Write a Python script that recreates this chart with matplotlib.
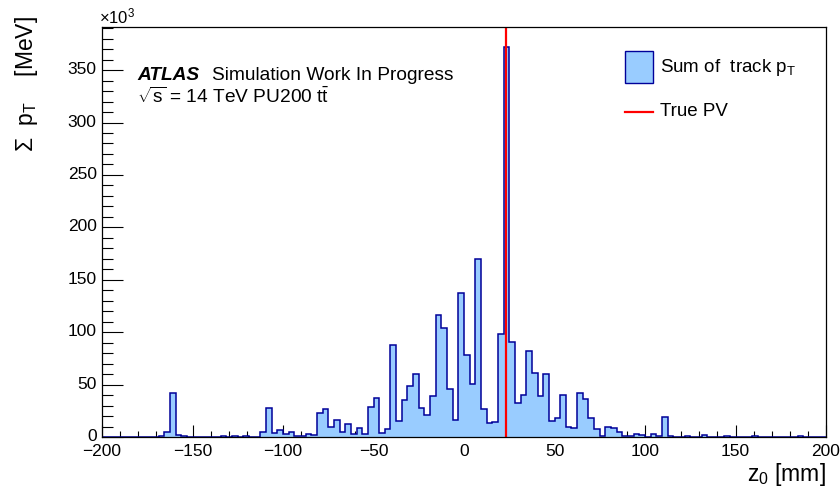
import numpy as np
import matplotlib
matplotlib.use("Agg")
import matplotlib.pyplot as plt
import matplotlib.transforms as mtransforms
from matplotlib.patches import Rectangle
from matplotlib.lines import Line2D
from matplotlib.ticker import MultipleLocator

plt.rcParams["font.family"] = ["Liberation Sans", "DejaVu Sans"]
plt.rcParams["mathtext.fontset"] = "custom"
plt.rcParams["mathtext.rm"] = "Liberation Sans"
plt.rcParams["mathtext.it"] = "Liberation Sans:italic"
plt.rcParams["mathtext.bf"] = "Liberation Sans:bold"

# ==========================================================
#  data : sum of track pT per z0 bin (x10^3 MeV), 128 bins in [-200, 200] mm
# ==========================================================
Z_MIN, Z_MAX, N_BINS = -200.0, 200.0, 128

sum_pt = [
    0, 0, 0, 0, 0, 0, 0, 0, 0, 0,                           # -200 .. -171.9
    1.2, 4.7, 42, 1.5, 1.2, 0, 0, 0, 0, 0,                  # -168.8 ..
    0, 1.0, 0, 1.2, 0, 1.0, 0.3, 0.3, 4.4, 28,              # -134.4 ..
    3.4, 7.0, 2.7, 5.2, 0.5, 0.5, 3.3, 1.6, 23, 26.8,       # -106.3 ..
    9.7, 16, 5.0, 12, 2.8, 8.5, 2.8, 28.4, 37, 4.0,         # -75 ..
    7.8, 87.3, 15.4, 35.4, 48.6, 60, 27.4, 21.1, 39, 116,   # -43.8 ..
    104, 46, 16, 137.4, 78, 51, 169.7, 26.5, 12.9, 14.1,    # -12.5 ..
    98.5, 372.5, 91.1, 32.5, 39.8, 81.6, 61, 38.9, 60.4, 15.1,  # 18.8 ..
    18.3, 39.8, 9.1, 8.8, 42.3, 36.6, 18.6, 7.2, 0.9, 9.1,  # 50 ..
    8.8, 4.9, 0.9, 0.5, 2.6, 1.5, 0.3, 3.2, 0.8, 19.5,      # 81.3 ..
    0.8, 0.3, 0.3, 0.6, 0, 0, 2.3, 0.3, 0, 0.3,             # 112.5 ..
    0.6, 0, 0, 0, 0, 0.9, 0, 0, 0, 0,                       # 143.8 ..
    0, 0, 0, 1.3, 0, 0, 0, 0,                               # 175 .. 196.9
]
true_pv_z = 23.2

x_ticks_major, x_ticks_minor = 50, 10
y_ticks_major, y_ticks_minor = 50, 10

edges = np.linspace(Z_MIN, Z_MAX, N_BINS + 1)

# ==========================================================
#  figure (ROOT canvas 840 x 494)
# ==========================================================
W, H = 840, 494
def fx(px):
    return px / W
def fy(py):
    return 1 - py / H

fig = plt.figure(figsize=(W / 100, H / 100), dpi=100)
ax = fig.add_axes([fx(102), fy(437), (826 - 102) / W, (437 - 27) / H])

FILL = "#99ccff"
EDGE = "#000099"

ax.stairs(sum_pt, edges, fill=True, facecolor=FILL, edgecolor="none", zorder=2)
ax.stairs(sum_pt, edges, fill=False, edgecolor=EDGE, linewidth=1.1, baseline=0, zorder=3)
ax.axvline(true_pv_z, color="red", linewidth=1.6, zorder=4)

ax.set_xlim(Z_MIN, Z_MAX)
ax.set_ylim(0, max(sum_pt) * 1.05)

ax.xaxis.set_major_locator(MultipleLocator(x_ticks_major))
ax.xaxis.set_minor_locator(MultipleLocator(x_ticks_minor))
ax.yaxis.set_major_locator(MultipleLocator(y_ticks_major))
ax.yaxis.set_minor_locator(MultipleLocator(y_ticks_minor))

ax.tick_params(axis="both", which="both", direction="in", top=False, right=False,
               width=0.8, color="black", labelsize=12.5)
ax.tick_params(axis="x", which="major", length=8.6, pad=5)
ax.tick_params(axis="x", which="minor", length=4.3)
ax.tick_params(axis="y", which="major", length=15, pad=3.8)
ax.tick_params(axis="y", which="minor", length=7.8)

# ROOT puts the y labels a hair above the tick
shift_up = mtransforms.ScaledTranslation(0, 2 / 100, fig.dpi_scale_trans)
for lab in ax.get_yticklabels():
    lab.set_transform(lab.get_transform() + shift_up)

for s in ax.spines.values():
    s.set_linewidth(0.9)
    s.set_zorder(5)

# axis titles
fig.text(fx(826), fy(474), r"z$_{0}$ [mm]", ha="right", va="center", fontsize=16.5)
fig.text(fx(26), fy(16), r"$\Sigma$  p$_{\mathrm{T}}$    [MeV]", rotation=90,
         ha="center", va="top", fontsize=16.5)
fig.text(fx(99), fy(26), r"$\times$10$^{3}$", ha="left", va="bottom", fontsize=12)

# ATLAS label
fig.text(fx(137), fy(80), "ATLAS", ha="left", va="baseline", fontsize=13.8,
         fontweight="bold", fontstyle="italic")
fig.text(fx(212), fy(80), "Simulation Work In Progress", ha="left", va="baseline",
         fontsize=13.8)
fig.text(fx(137), fy(103), r"$\sqrt{\mathrm{s}}$ = 14 TeV PU200 t$\bar{\mathrm{t}}$",
         ha="left", va="baseline", fontsize=13.8)

# legend
fig.add_artist(Rectangle((fx(625), fy(83)), (653 - 625) / W, (83 - 51) / H,
                         facecolor=FILL, edgecolor=EDGE, linewidth=1.0,
                         transform=fig.transFigure))
fig.text(fx(660), fy(67), r"Sum of  track p$_{\mathrm{T}}$", ha="left", va="center",
         fontsize=13.5)
fig.add_artist(Line2D([fx(625), fx(653)], [fy(112), fy(112)], color="red",
                      linewidth=1.6, transform=fig.transFigure))
fig.text(fx(660), fy(112), "True PV", ha="left", va="center", fontsize=13.5)

fig.savefig("out.png", dpi=100)
